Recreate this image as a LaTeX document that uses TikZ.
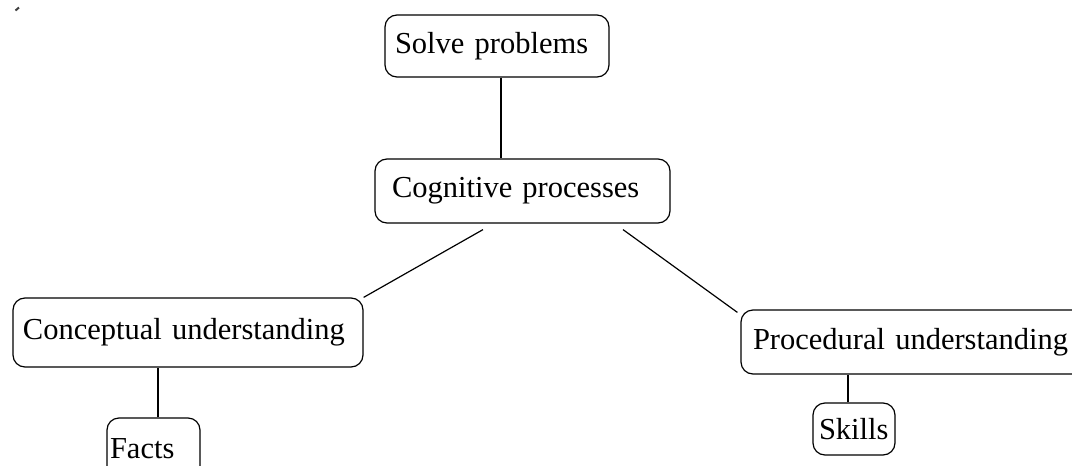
\documentclass[tikz,border=0pt]{standalone}
\usepackage{fontspec}
\setmainfont{Liberation Serif}
\usetikzlibrary{calc}
\begin{document}
\begin{tikzpicture}[x=1pt,y=-1pt,
  box/.style={draw, line width=1.2pt, rounded corners=12pt, align=left,
    font=\fontsize{30.5}{36}\selectfont, inner ysep=0pt, anchor=center},
  link/.style={line width=1.2pt}]
\path[use as bounding box] (0,0) rectangle (1072,466);
\clip (0,0) rectangle (1072,466);
\fill[white] (0,0) rectangle (1072,466);
% boxes: width = text width + 2*inner xsep
\node[box, inner xsep=10pt, text width=204pt, minimum height=62pt] (solve) at (497,46) {Solve problems};
\node[box, inner xsep=17pt, text width=261pt, minimum height=64pt] (cog) at (522.5,191) {Cognitive processes};
\node[box, inner xsep=10pt, text width=330pt, minimum height=69pt] (conc) at (188,332.5) {Conceptual understanding};
\node[box, inner xsep=3pt, text width=87pt, minimum height=61pt] (facts) at (153.5,448.5) {Facts};
\node[box, inner xsep=12pt, text width=320pt, minimum height=64pt] (proc) at (913,342) {Procedural understanding};
\node[box, inner xsep=6pt, text width=70pt, minimum height=52pt] (skills) at (854,429) {Skills};
% connectors
\draw[link] ([xshift=4pt]solve.south) -- ([xshift=4pt]solve.south |- cog.north);
\draw[link] ($(cog.south)+(-39.5,6)$) -- ($(conc.north east)+(0,0)$);
\draw[link] ($(cog.south)+(100.5,6)$) -- ($(proc.north west)+(-3,3)$);
\draw[link] ([xshift=4.5pt]facts.north) -- ([xshift=4.5pt]facts.north |- conc.south);
\draw[link] ([xshift=-6pt]skills.north) -- ([xshift=-6pt]skills.north |- proc.south);
% small mark at top left
\draw[black!75, line width=2pt] (15.5,10.5) -- (19,7.5);
\end{tikzpicture}
\end{document}
